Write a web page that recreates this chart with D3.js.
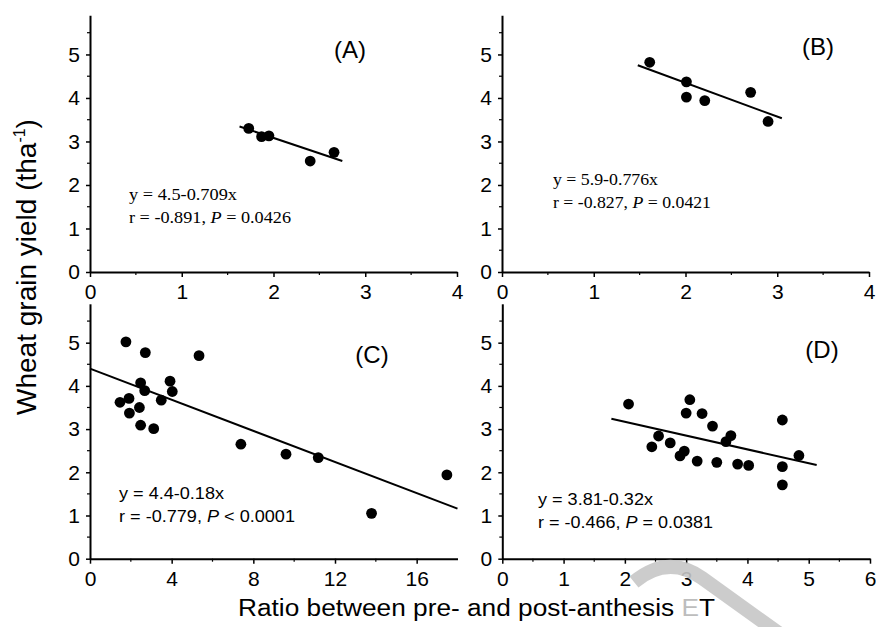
<!DOCTYPE html>
<html lang="en">
<head>
    <meta charset="UTF-8">
    <title>Wheat grain yield vs ET ratio</title>
    <script src="https://d3js.org/d3.v7.min.js"></script>
    <style>
        body { margin: 0; background: #fff; }
    </style>
</head>
<body>
    <div id="chart"></div>
    <script>
        // data
        const aX = [1.73, 1.87, 1.95, 2.40, 2.66];
        const aY = [3.30, 3.11, 3.13, 2.55, 2.75];
        const bX = [1.61, 2.01, 2.01, 2.21, 2.71, 2.90];
        const bY = [4.82, 4.37, 4.02, 3.94, 4.13, 3.46];
        const cX = [1.76, 2.71, 5.34, 2.48, 3.92, 2.68, 4.03, 3.49, 1.47, 1.91, 2.42, 1.93, 2.48, 3.12, 7.39, 9.60, 11.18, 17.48, 13.79];
        const cY = [5.02, 4.77, 4.70, 4.07, 4.11, 3.89, 3.87, 3.67, 3.62, 3.71, 3.50, 3.37, 3.09, 3.01, 2.65, 2.42, 2.34, 1.94, 1.05];
        const dX = [2.06, 2.44, 2.55, 2.74, 2.90, 2.97, 3.00, 3.06, 3.18, 3.26, 3.43, 3.50, 3.65, 3.73, 3.84, 4.02, 4.57, 4.57, 4.57, 4.84];
        const dY = [3.58, 2.59, 2.84, 2.68, 2.38, 2.49, 3.37, 3.68, 2.26, 3.36, 3.07, 2.23, 2.71, 2.85, 2.19, 2.16, 3.21, 2.13, 1.71, 2.39];

        // fitted lines: intercept, slope, x range drawn
        const fitA = [4.5, -0.709], fitARange = [1.63, 2.75];
        const fitB = [5.9, -0.776], fitBRange = [1.48, 3.05];
        const fitC = [4.4, -0.18], fitCRange = [0, 18];
        const fitD = [3.81, -0.32], fitDRange = [1.78, 5.13];

        const yTicks = [0, 1, 2, 3, 4, 5];
        const xTicksAB = [0, 1, 2, 3, 4];
        const xTicksC = [0, 4, 8, 12, 16];
        const xTicksD = [0, 1, 2, 3, 4, 5, 6];

        const labels = ['(A)', '(B)', '(C)', '(D)'];
        const eqA = ['y = 4.5-0.709x', 'r = -0.891, ', 'P', ' = 0.0426'];
        const eqB = ['y = 5.9-0.776x', 'r = -0.827, ', 'P', ' = 0.0421'];
        const eqC = ['y = 4.4-0.18x', 'r = -0.779, ', 'P', ' < 0.0001'];
        const eqD = ['y = 3.81-0.32x', 'r = -0.466, ', 'P', ' = 0.0381'];

        const sans = 'Arial, "Liberation Sans", sans-serif';
        const serif = '"Times New Roman", "Liberation Serif", serif';

        const svg = d3.select('#chart').append('svg')
            .attr('width', 876)
            .attr('height', 627);

        const panels = [
            { xs: aX, ys: aY, fit: fitA, range: fitARange, xMax: 4, xTicks: xTicksAB, minor: 0.5,
              left: 90, right: 457, top: 15.3, bottom: 272, label: labels[0], lx: 350, ly: 58,
              eq: eqA, ex: 129, ey: 200, ew: [108, 162], efont: serif },
            { xs: bX, ys: bY, fit: fitB, range: fitBRange, xMax: 4, xTicks: xTicksAB, minor: 0.5,
              left: 502, right: 869, top: 15.3, bottom: 272, label: labels[1], lx: 818, ly: 55,
              eq: eqB, ex: 553, ey: 185, ew: [105, 158], efont: serif },
            { xs: cX, ys: cY, fit: fitC, range: fitCRange, xMax: 18, xTicks: xTicksC, minor: 2,
              left: 90, right: 457.5, top: 303.8, bottom: 558.7, label: labels[2], lx: 372, ly: 363,
              eq: eqC, ex: 119, ey: 499, ew: [105, 176], efont: sans },
            { xs: dX, ys: dY, fit: fitD, range: fitDRange, xMax: 6, xTicks: xTicksD, minor: 0.5,
              left: 502.3, right: 870, top: 303.8, bottom: 558.7, label: labels[3], lx: 822, ly: 358,
              eq: eqD, ex: 538, ey: 505, ew: [115, 175], efont: sans }
        ];

        panels.forEach(p => {
            const x = d3.scaleLinear().domain([0, p.xMax]).range([p.left, p.right]);
            const y = d3.scaleLinear().domain([0, 5.9]).range([p.bottom, p.top]);
            const g = svg.append('g');

            // minor ticks
            g.selectAll('.xminor')
                .data(d3.range(p.minor, p.xMax, p.minor * 2))
                .enter().append('line')
                .attr('x1', d => x(d)).attr('x2', d => x(d))
                .attr('y1', p.bottom).attr('y2', p.bottom + 3)
                .attr('stroke', '#000').attr('stroke-width', 1.2);
            g.selectAll('.yminor')
                .data(d3.range(0.5, 5.9, 1))
                .enter().append('line')
                .attr('x1', p.left).attr('x2', p.left - 3)
                .attr('y1', d => y(d)).attr('y2', d => y(d))
                .attr('stroke', '#000').attr('stroke-width', 1.2);

            const xAxis = g.append('g')
                .attr('transform', `translate(0,${p.bottom})`)
                .call(d3.axisBottom(x).tickValues(p.xTicks).tickFormat(d3.format('d'))
                    .tickSize(5).tickSizeOuter(0).tickPadding(7));
            const yAxis = g.append('g')
                .attr('transform', `translate(${p.left},0)`)
                .call(d3.axisLeft(y).tickValues(yTicks).tickFormat(d3.format('d'))
                    .tickSize(4).tickSizeOuter(0).tickPadding(6));

            [xAxis, yAxis].forEach(ax => {
                ax.select('.domain').attr('stroke', '#000').attr('stroke-width', 2);
                ax.selectAll('.tick line').attr('stroke', '#000').attr('stroke-width', 1.5);
                ax.selectAll('.tick text')
                    .attr('font-family', sans)
                    .attr('font-size', 21)
                    .attr('fill', '#000');
            });

            // fitted line
            g.append('path')
                .datum(p.range)
                .attr('d', d3.line().x(d => x(d)).y(d => y(p.fit[0] + p.fit[1] * d)))
                .attr('fill', 'none')
                .attr('stroke', '#000')
                .attr('stroke-width', 2);

            // points
            g.selectAll('circle')
                .data(p.xs.map((v, i) => [v, p.ys[i]]))
                .enter().append('circle')
                .attr('cx', d => x(d[0]))
                .attr('cy', d => y(d[1]))
                .attr('r', 5.4)
                .attr('fill', '#000');

            // panel label
            g.append('text')
                .attr('x', p.lx).attr('y', p.ly)
                .attr('text-anchor', 'middle')
                .attr('font-family', sans)
                .attr('font-size', 24)
                .text(p.label);

            // equation text
            g.append('text')
                .attr('x', p.ex).attr('y', p.ey)
                .attr('font-family', p.efont)
                .attr('font-size', 17)
                .attr('textLength', p.ew[0])
                .attr('lengthAdjust', 'spacingAndGlyphs')
                .text(p.eq[0]);
            const t2 = g.append('text')
                .attr('x', p.ex).attr('y', p.ey + 23)
                .attr('font-family', p.efont)
                .attr('font-size', 17)
                .attr('textLength', p.ew[1])
                .attr('lengthAdjust', 'spacingAndGlyphs');
            t2.append('tspan').text(p.eq[1]);
            t2.append('tspan').attr('font-style', 'italic').text(p.eq[2]);
            t2.append('tspan').text(p.eq[3]);
        });

        // axis titles
        const yTitle = svg.append('text')
            .attr('transform', 'translate(36,267) rotate(-90)')
            .attr('text-anchor', 'middle')
            .attr('font-family', sans)
            .attr('font-size', 28);
        yTitle.append('tspan').text('Wheat grain yield (tha');
        yTitle.append('tspan').attr('font-size', 16).attr('dy', -11).text('-1');
        yTitle.append('tspan').attr('dy', 11).text(')');

        const xTitle = svg.append('text')
            .attr('x', 238).attr('y', 616)
            .attr('font-family', sans)
            .attr('font-size', 23)
            .attr('textLength', 477)
            .attr('lengthAdjust', 'spacingAndGlyphs');
        xTitle.append('tspan').text('Ratio between pre- and post-anthesis ');
        xTitle.append('tspan').attr('fill', '#bdbdbd').text('E');
        xTitle.append('tspan').text('T');

        // grey watermark stroke over the bottom right
        svg.append('path')
            .attr('d', 'M 634 582 Q 668 554 702 578 L 780 634')
            .attr('fill', 'none')
            .attr('stroke', '#c6c6c6')
            .attr('stroke-opacity', 0.9)
            .attr('stroke-width', 14);
    </script>
</body>
</html>
